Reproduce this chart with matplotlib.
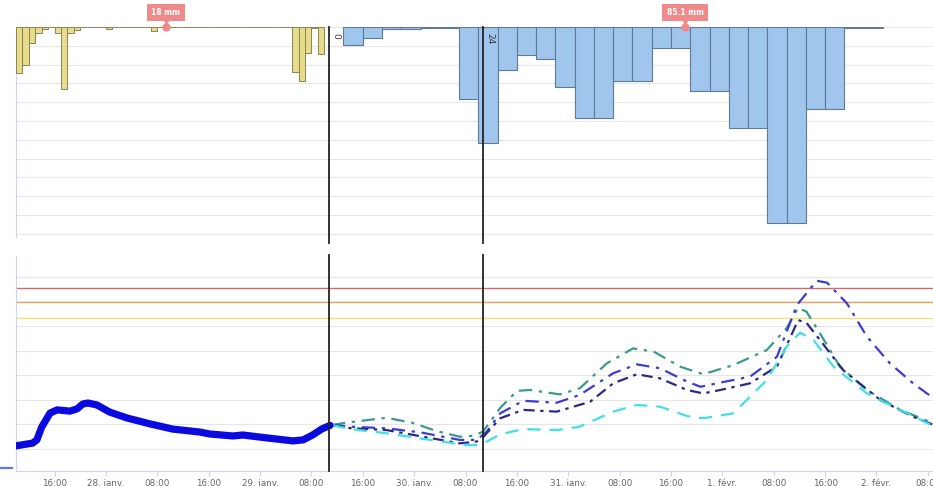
import matplotlib
matplotlib.use('Agg')
import matplotlib.pyplot as plt
from matplotlib.lines import Line2D
import numpy as np

# time axis: hours since 28 janv. 00:00
t_min, t_max = -14.0, 128.8
tick_hours = [-8, 0, 8, 16, 24, 32, 40, 48, 56, 64, 72, 80, 88, 96, 104, 112, 120, 128]
tick_labels = ["16:00", "28. janv.", "08:00", "16:00", "29. janv.", "08:00", "16:00",
               "30. janv.", "08:00", "16:00", "31. janv.", "08:00", "16:00", "1. févr.",
               "08:00", "16:00", "2. févr.", "08:00"]

# observed hourly rain (mm), starting at t = -14
rain_obs_start = -14
rain_obs = [2.45, 2.0, 0.85, 0.3, 0.1, 0.02, 0.33, 3.3, 0.33, 0.16,
            0.02, 0.02, 0.02, 0.02, 0.12, 0.02, 0.02, 0.02, 0.02, 0.02,
            0.02, 0.2, 0.02, 0.02, 0.02, 0.02, 0.02, 0.02, 0.02, 0.02,
            0.02, 0.02, 0.02, 0.02, 0.02, 0.02, 0.02, 0.02, 0.02, 0.02,
            0.02, 0.02, 0.02, 2.38, 2.87, 1.4, 0.03, 1.44]

# forecast 3-hourly rain (mm), starting at t = 37
rain_fc_start = 37
rain_fc = [0.96, 0.58, 0.08, 0.08, 0.05, 0.05, 3.83, 6.17, 2.29, 1.49,
           1.70, 3.19, 4.84, 4.84, 2.87, 2.87, 1.12, 1.12, 3.40, 3.40,
           5.37, 5.37, 10.43, 10.43, 4.36, 4.36, 0.03, 0.03]

rain_obs_label = "18 mm"
rain_obs_label_t = 9.35
rain_fc_label = "85.1 mm"
rain_fc_label_t = 90.2

# forecast run markers
run_times = [34.7, 58.7]
run_names = ["0", "24"]

# observed level
obs_t = [-14.2, -11.4, -10.75, -10.0, -8.7, -7.6, -5.6, -4.5, -3.6, -2.8, -1.4, 0.6,
         3.3, 6.9, 10.4, 14.6, 16.2, 19.8, 21.3, 25.1, 29.1, 30.7, 32.2, 33.6, 34.9]
obs_y = [0.12, 0.24, 0.37, 0.89, 1.46, 1.59, 1.54, 1.63, 1.83, 1.87, 1.79, 1.50,
         1.26, 1.02, 0.81, 0.69, 0.61, 0.53, 0.57, 0.45, 0.33, 0.37, 0.57, 0.81, 0.96]

# forecasts
teal_t = [35.2, 38.0, 43.7, 47.8, 51.5, 55.1, 57.2, 58.7, 61.4, 64.0, 66.0, 70.7, 73.8,
          78.0, 82.1, 85.3, 89.4, 93.0, 97.7, 102.9, 106.0, 107.8, 109.1, 111.2, 114.3,
          118.5, 123.7, 128.9]
teal_y = [0.98, 1.09, 1.27, 1.06, 0.73, 0.50, 0.54, 0.70, 1.67, 2.36, 2.40, 2.22, 2.47,
          3.48, 4.09, 3.96, 3.35, 3.04, 3.41, 4.02, 4.91, 5.74, 5.58, 4.70, 3.35,
          2.40, 1.59, 1.04]

blue_t = [35.2, 38.0, 43.7, 48.9, 55.1, 57.7, 59.3, 61.4, 65.0, 70.2, 73.8, 79.0, 82.7,
          86.3, 90.5, 92.6, 95.7, 100.3, 104.5, 107.6, 110.7, 112.3, 115.4, 118.5,
          122.1, 125.7, 128.9]
blue_y = [0.98, 0.91, 0.84, 0.68, 0.37, 0.37, 0.70, 1.45, 1.96, 1.88, 2.20, 3.08, 3.44,
          3.28, 2.74, 2.53, 2.70, 2.94, 3.75, 5.85, 6.84, 6.76, 5.92, 4.57,
          3.48, 2.67, 2.06]

navy_t = [35.2, 38.0, 43.7, 55.1, 57.7, 58.8, 61.4, 65.0, 70.2, 75.4, 79.0, 82.7, 86.3,
          90.5, 93.0, 95.7, 100.3, 104.5, 107.8, 109.1, 111.2, 114.8, 120.6, 125.7, 128.9]
navy_y = [0.98, 0.85, 0.77, 0.23, 0.30, 0.50, 1.25, 1.59, 1.52, 1.92, 2.67, 3.04, 2.87,
          2.40, 2.26, 2.40, 2.67, 3.35, 5.24, 5.13, 4.43, 3.21, 1.99, 1.31, 0.98]

cyan_t = [35.2, 38.0, 43.7, 50.5, 56.2, 57.7, 59.3, 61.4, 65.0, 70.2, 73.8, 79.0, 82.7,
          86.3, 90.5, 93.0, 97.7, 102.9, 106.0, 108.1, 110.2, 113.3, 118.5, 123.7, 128.9]
cyan_y = [0.98, 0.81, 0.64, 0.37, 0.16, 0.16, 0.30, 0.60, 0.81, 0.77, 0.91, 1.52, 1.79,
          1.72, 1.34, 1.25, 1.45, 2.80, 4.16, 4.73, 4.43, 3.35, 2.26, 1.59, 0.93]

# alert thresholds
thresholds = [6.54, 5.98, 5.33]
threshold_colors = ["#d9666a", "#e3a253", "#efe27a"]

grid_c = "#e6e6e6"
axis_c = "#ccd6eb"

fig = plt.figure(figsize=(9.33, 4.86), dpi=100)
ax1 = fig.add_axes([16 / 933, 1 - 236.6 / 486, 917 / 933, 209.6 / 486])
ax2 = fig.add_axes([16 / 933, 1 - 471 / 486, 917 / 933, 215 / 486])

# --- rain panel ---
obs_x = np.arange(len(rain_obs)) + rain_obs_start
ax1.bar(obs_x, rain_obs, width=1, align='edge', color='#e8dc8a', edgecolor='#8a8458',
        linewidth=0.7, zorder=3)
fc_x = np.arange(len(rain_fc)) * 3 + rain_fc_start
ax1.bar(fc_x, rain_fc, width=3, align='edge', color='#a0c6ee', edgecolor='#5e7a98',
        linewidth=0.8, zorder=3)
ax1.set_xlim(t_min, t_max)
ax1.set_ylim(11.15, 0)
ax1.set_yticks(range(0, 12))
ax1.grid(axis='y', color=grid_c, linewidth=0.8, zorder=0)
ax1.tick_params(left=False, bottom=False, labelleft=False, labelbottom=False)
for s in ['top', 'right', 'bottom']:
    ax1.spines[s].set_visible(False)
ax1.spines['left'].set_color(axis_c)

for lt, lbl in [(rain_obs_label_t, rain_obs_label), (rain_fc_label_t, rain_fc_label)]:
    ax1.plot(lt, 0, 'o', ms=5, color='#f08a8a', clip_on=False, zorder=5)
    ax1.plot(lt, -0.32, 'v', ms=5, color='#f08a8a', clip_on=False, zorder=5)
    ax1.text(lt, -0.78, lbl, ha='center', va='center', fontsize=5.5, color='white',
             fontweight='bold',
             bbox=dict(boxstyle='square,pad=0.55', fc='#f08a8a', ec='none'),
             clip_on=False, zorder=6)

for rt, rn in zip(run_times, run_names):
    ax1.plot([rt, rt], [0, 11.5], color='#222222', linewidth=1.3, clip_on=False, zorder=4)
    ax1.text(rt + 0.4, 0.3, rn, rotation=270, ha='left', va='top', fontsize=6.5,
             color='#333333', zorder=5)

# --- level panel ---
ax2.set_xlim(t_min, t_max)
ax2.set_ylim(-0.894, 7.846)
ax2.set_yticks(range(0, 8))
ax2.grid(axis='y', color=grid_c, linewidth=0.8, zorder=0)
for yv, c in zip(thresholds, threshold_colors):
    ax2.axhline(yv, color=c, linewidth=1.0, zorder=1)

ax2.plot(obs_t, obs_y, color='#0a0ae0', linewidth=5.2, solid_capstyle='round',
         solid_joinstyle='round', zorder=4)
ax2.plot(teal_t, teal_y, color='#3a9a8c', linewidth=1.6, linestyle=(0, (6, 3, 1.5, 3)), zorder=3)
ax2.plot(blue_t, blue_y, color='#3c3cd2', linewidth=1.6, linestyle=(0, (6, 3, 1.5, 3)), zorder=3)
ax2.plot(navy_t, navy_y, color='#2a2a85', linewidth=1.6, linestyle=(0, (5, 2.5, 1.5, 2.5)), zorder=3)
ax2.plot(cyan_t, cyan_y, color='#40dfe8', linewidth=1.6, linestyle=(0, (6, 4)), zorder=3)

for rt in run_times:
    ax2.plot([rt, rt], [-0.894, 7.89], color='#222222', linewidth=1.3, clip_on=False, zorder=5)

ax2.set_xticks(tick_hours)
ax2.set_xticklabels(tick_labels, fontsize=6.3, color='#666666')
ax2.tick_params(axis='x', length=3.5, width=0.8, color=axis_c, pad=2)
ax2.tick_params(axis='y', left=False, labelleft=False)
for s in ['top', 'right']:
    ax2.spines[s].set_visible(False)
ax2.spines['left'].set_color(axis_c)
ax2.spines['bottom'].set_color(axis_c)

fig.add_artist(Line2D([0, 12 / 933], [1 - 468 / 486, 1 - 468 / 486], color='#5a7fd8',
                      linewidth=1.6, transform=fig.transFigure))

fig.savefig('out.png', dpi=100)
